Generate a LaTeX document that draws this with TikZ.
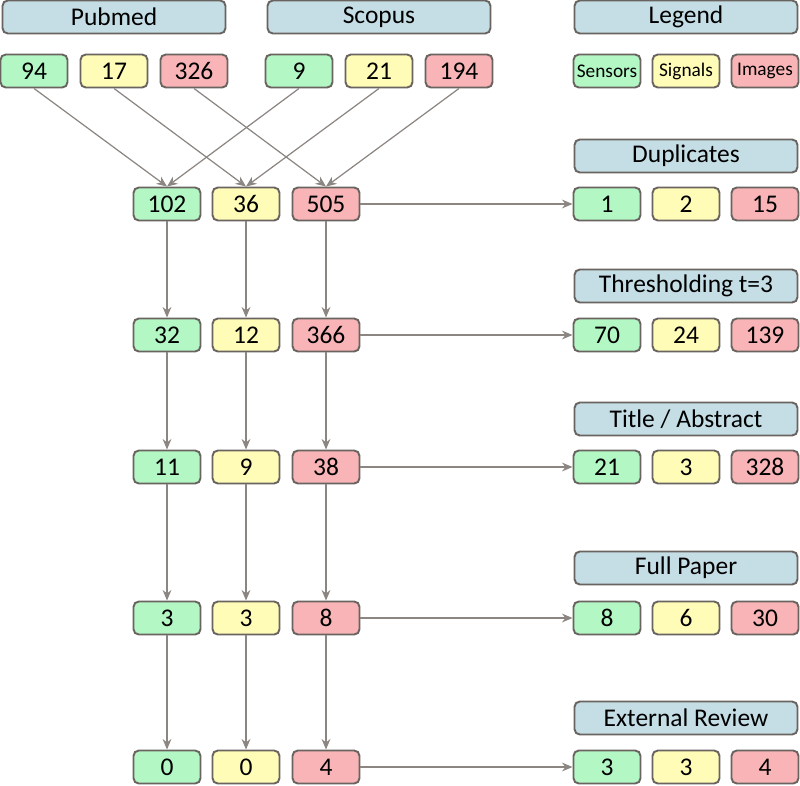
\documentclass[tikz,border=0pt]{standalone}
\usepackage{fontspec}
\setmainfont{Carlito}
\usetikzlibrary{arrows.meta}
\definecolor{sensfill}{HTML}{B3F7C5}
\definecolor{sigfill}{HTML}{FFFCB8}
\definecolor{imgfill}{HTML}{F8B4B6}
\definecolor{hdrfill}{HTML}{C5DEE6}
\definecolor{boxline}{HTML}{6A6460}
\definecolor{arrline}{HTML}{8C8682}
\tikzset{
  box/.style={draw=boxline, line width=1.1pt, rounded corners=3pt,
    minimum width=1.34cm, minimum height=0.66cm, inner sep=0pt,
    font=\fontsize{14.5}{17}\selectfont},
  hdr/.style={box, fill=hdrfill, minimum width=4.46cm},
  sens/.style={box, fill=sensfill},
  sig/.style={box, fill=sigfill},
  img/.style={box, fill=imgfill},
  small/.style={font=\fontsize{11}{13}\selectfont},
  flow/.style={draw=arrline, line width=0.7pt, -{Stealth[length=6pt,width=5pt]}}
}
\begin{document}
\begin{tikzpicture}[x=0.02cm, y=-0.02cm]
    \useasboundingbox (0,0) rectangle (800,785);
    % Nguon
    \node[hdr] (pubmed) at (114,17) {Pubmed};
    \node[hdr] (scopus) at (379,17) {Scopus};
    \node[hdr] (legend) at (686,17) {Legend};
    \node[sens] (pm1) at (34,71) {94};
    \node[sig]  (pm2) at (114,71) {17};
    \node[img]  (pm3) at (194,71) {326};
    \node[sens] (sc1) at (299,71) {9};
    \node[sig]  (sc2) at (379,71) {21};
    \node[img]  (sc3) at (459,71) {194};
    \node[sens, small] (lg1) at (607,71) {Sensors};
    \node[sig, small]  (lg2) at (686,71) {Signals};
    \node[img, small]  (lg3) at (765,71) {Images};
    % Cac buoc loc
    \node[hdr] (h1) at (686,156) {Duplicates};
    \node[hdr] (h2) at (686,286) {Thresholding t=3};
    \node[hdr] (h3) at (686,419) {Title / Abstract};
    \node[hdr] (h4) at (686,568) {Full Paper};
    \node[hdr] (h5) at (686,718) {External Review};
    \foreach \k/\y/\a/\b/\c/\d/\e/\f in {1/204/102/36/505/1/2/15,
        2/335/32/12/366/70/24/139, 3/467/11/9/38/21/3/328,
        4/618/3/3/8/8/6/30, 5/767/0/0/4/3/3/4} {
        \node[sens] (s\k) at (167,\y) {\a};
        \node[sig]  (g\k) at (246,\y) {\b};
        \node[img]  (i\k) at (326,\y) {\c};
        \node[sens] (rs\k) at (607,\y) {\d};
        \node[sig]  (rg\k) at (686,\y) {\e};
        \node[img]  (ri\k) at (765,\y) {\f};
        \draw[flow] (i\k.east) -- (rs\k.west);
    }
    \foreach \k [evaluate=\k as \p using int(\k-1)] in {2,...,5} {
        \draw[flow] (s\p) -- (s\k);
        \draw[flow] (g\p) -- (g\k);
        \draw[flow] (i\p) -- (i\k);
    }
    \draw[flow] (pm1.south) -- (s1.north);
    \draw[flow] (sc1.south) -- (s1.north);
    \draw[flow] (pm2.south) -- (g1.north);
    \draw[flow] (sc2.south) -- (g1.north);
    \draw[flow] (pm3.south) -- (i1.north);
    \draw[flow] (sc3.south) -- (i1.north);
\end{tikzpicture}
\end{document}
